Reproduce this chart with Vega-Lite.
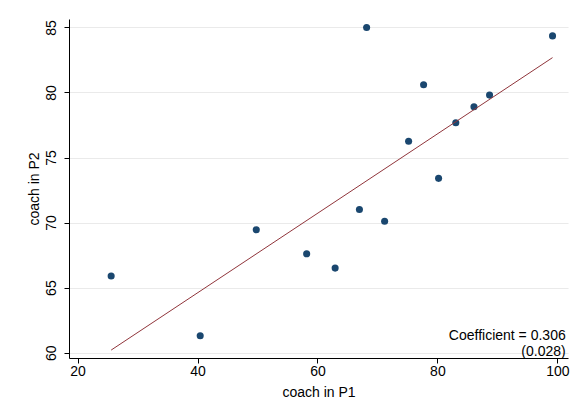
{
  "$schema": "https://vega.github.io/schema/vega-lite/v6.json",
  "width": 499,
  "height": 339,
  "autosize": {"type": "none"},
  "padding": {"left": 69, "top": 19, "right": 16, "bottom": 59},
  "background": "white",
  "config": {
    "view": {"stroke": null},
    "font": "Liberation Sans",
    "axis": {
      "domainColor": "#000000",
      "domainWidth": 1,
      "tickColor": "#000000",
      "tickSize": 5,
      "labelColor": "#000000",
      "titleColor": "#000000",
      "labelFont": "Liberation Sans",
      "titleFont": "Liberation Sans",
      "labelFontSize": 14,
      "titleFontSize": 14,
      "titleFontWeight": "normal",
      "gridColor": "#eaeaea",
      "gridWidth": 1.2
    }
  },
  "datasets": {
    "points": [
      {"p1": 25.6, "p2": 65.9},
      {"p1": 40.45, "p2": 61.3},
      {"p1": 49.8, "p2": 69.45},
      {"p1": 58.2, "p2": 67.6},
      {"p1": 62.95, "p2": 66.5},
      {"p1": 67.0, "p2": 71.0},
      {"p1": 68.2, "p2": 85.0},
      {"p1": 71.2, "p2": 70.1},
      {"p1": 75.2, "p2": 76.25},
      {"p1": 77.7, "p2": 80.6},
      {"p1": 80.2, "p2": 73.4},
      {"p1": 83.07, "p2": 77.67},
      {"p1": 86.1, "p2": 78.9},
      {"p1": 88.7, "p2": 79.8},
      {"p1": 99.2, "p2": 84.35}
    ],
    "fit": [
      {"p1": 25.6, "p2": 60.2},
      {"p1": 99.2, "p2": 82.68}
    ],
    "note": [
      {"label": "Coefficient = 0.306\n(0.028)"}
    ]
  },
  "layer": [
    {
      "data": {"name": "points"},
      "mark": {"type": "circle", "size": 50, "color": "#1a476f", "opacity": 1},
      "encoding": {
        "x": {
          "field": "p1",
          "type": "quantitative",
          "scale": {"domain": [18.57, 101.78], "nice": false, "zero": false},
          "axis": {
            "title": "coach in P1",
            "values": [20, 40, 60, 80, 100],
            "grid": false,
            "labelPadding": 1,
            "titlePadding": 7
          }
        },
        "y": {
          "field": "p2",
          "type": "quantitative",
          "scale": {"domain": [59.59, 85.65], "nice": false, "zero": false},
          "axis": {
            "title": "coach in P2",
            "values": [60, 65, 70, 75, 80, 85],
            "grid": true,
            "labelAngle": -90,
            "labelAlign": "center",
            "labelBaseline": "alphabetic",
            "labelPadding": 8.5,
            "titlePadding": 3
          }
        }
      }
    },
    {
      "data": {"name": "fit"},
      "mark": {"type": "line", "color": "#90353b", "strokeWidth": 1},
      "encoding": {
        "x": {"field": "p1", "type": "quantitative"},
        "y": {"field": "p2", "type": "quantitative"}
      }
    },
    {
      "data": {"name": "note"},
      "mark": {"type": "text", "align": "right", "baseline": "alphabetic", "fontSize": 14, "lineHeight": 16, "lineBreak": "\n", "color": "#000000", "font": "Liberation Sans"},
      "encoding": {
        "x": {"datum": 101.4, "type": "quantitative"},
        "y": {"datum": 60.95, "type": "quantitative"},
        "text": {"field": "label"}
      }
    }
  ]
}
